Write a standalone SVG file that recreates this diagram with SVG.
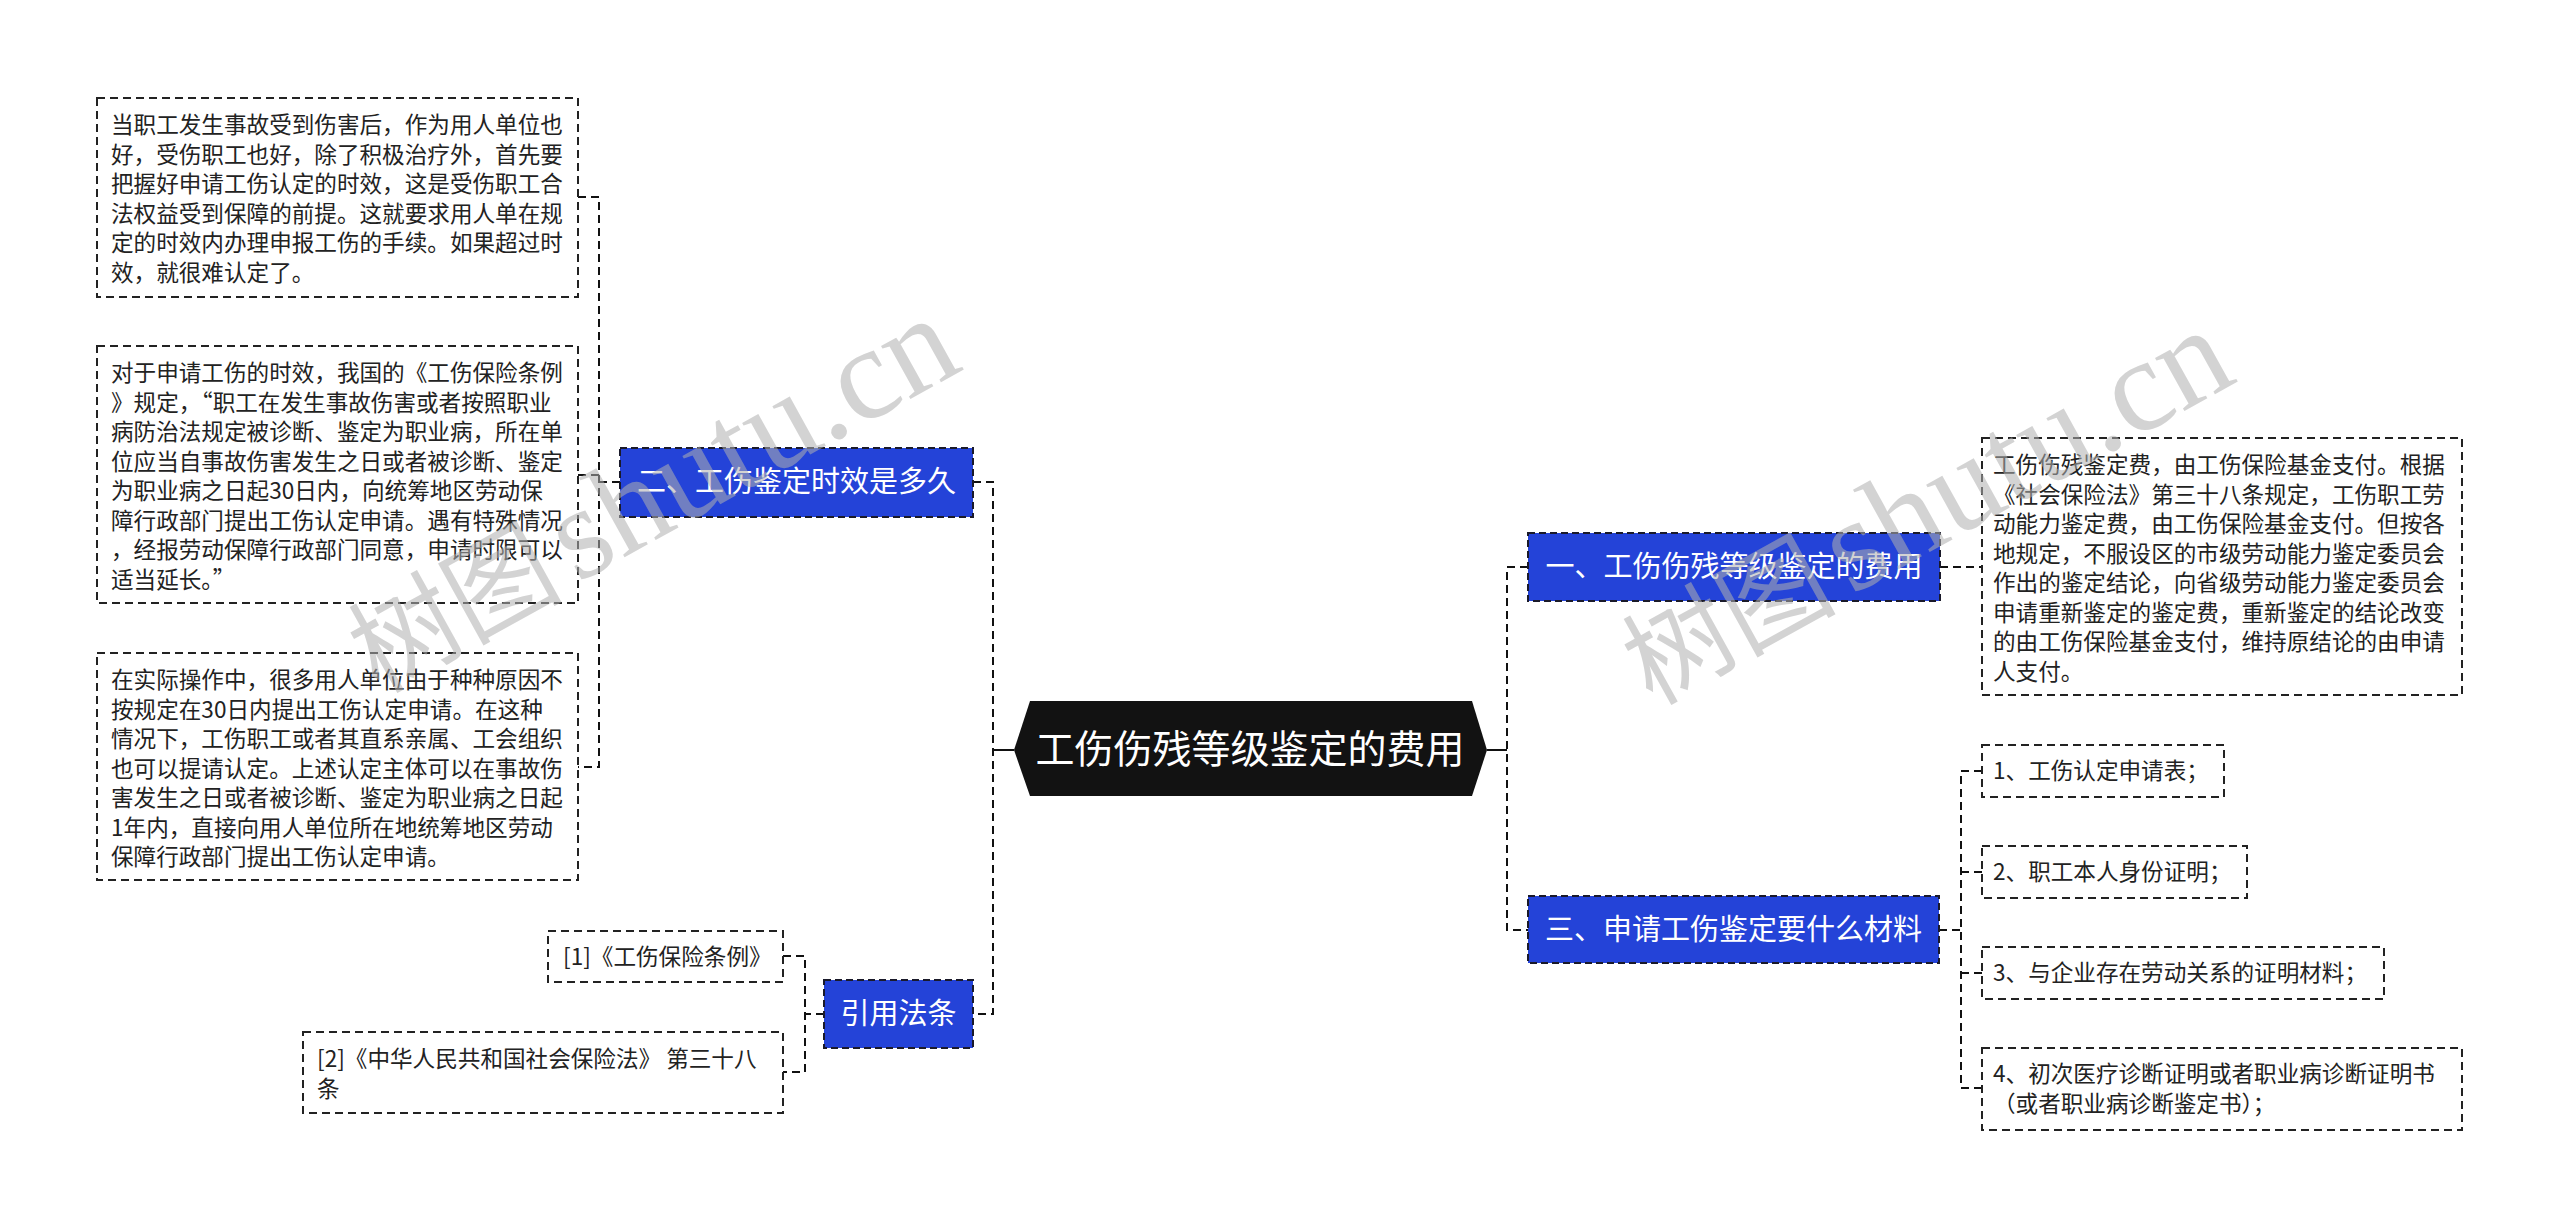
<svg xmlns="http://www.w3.org/2000/svg" width="2560" height="1228" viewBox="0 0 2560 1228">
<style>
.bg{fill:#ffffff}
.conn{fill:none;stroke:#111;stroke-width:2;stroke-dasharray:8 5}
.solid{fill:none;stroke:#111;stroke-width:2}
.leaf{fill:#ffffff;stroke:#222;stroke-width:2;stroke-dasharray:8 5}
.blue{fill:#2443d8;stroke:#1a1a2a;stroke-width:2;stroke-dasharray:7 4}
.root{fill:#121212}
.t{font-family:"Microsoft YaHei","Noto Sans CJK SC","Noto Sans",sans-serif;font-size:22.6px;fill:#222}
.bt{font-family:"Microsoft YaHei","Noto Sans CJK SC","Noto Sans",sans-serif;font-size:29px;fill:#ffffff;text-anchor:middle}
.rt{font-family:"Microsoft YaHei","Noto Sans CJK SC","Noto Sans",sans-serif;font-size:39px;fill:#ffffff;text-anchor:middle}
.wm{font-family:"Liberation Serif","Noto Sans CJK SC",serif;font-size:107px;fill:#b0b0b0;opacity:0.55}
.wml{font-size:132px}
</style>
<rect class="bg" x="0" y="0" width="2560" height="1228"/>

<g id="connectors">
  <path class="solid" d="M1014,750 H993"/>
  <path class="conn" d="M973,482 H993 V1014 H973"/>
  <path class="conn" d="M620,482 H599"/>
  <path class="conn" d="M578,197 H599 V767 H578"/>
  <path class="conn" d="M578,475 H599"/>
  <path class="conn" d="M824,1014 H805"/>
  <path class="conn" d="M783,956 H805 V1072 H783"/>
  <path class="solid" d="M1487,750 H1507"/>
  <path class="conn" d="M1528,567 H1507 V930 H1528"/>
  <path class="conn" d="M1940,567 H1982"/>
  <path class="conn" d="M1939,930 H1961"/>
  <path class="conn" d="M1982,771 H1961 V1088 H1982"/>
  <path class="conn" d="M1961,872 H1982"/>
  <path class="conn" d="M1961,973 H1982"/>
</g>

<g id="root">
  <polygon class="root" points="1014,750 1030,701 1472,701 1487,750 1472,796 1030,796"/>
  <text class="rt" x="1250" y="763">工伤伤残等级鉴定的费用</text>
</g>

<g id="n2">
  <rect class="blue" x="620" y="448" width="353" height="69"/>
  <text class="bt" x="796.5" y="492">二、工伤鉴定时效是多久</text>
</g>

<g id="n2a">
  <rect class="leaf" x="97" y="98" width="481" height="199"/>
  <text class="t">
    <tspan x="111" y="133">当职工发生事故受到伤害后，作为用人单位也</tspan>
    <tspan x="111" y="162.5">好，受伤职工也好，除了积极治疗外，首先要</tspan>
    <tspan x="111" y="192">把握好申请工伤认定的时效，这是受伤职工合</tspan>
    <tspan x="111" y="221.5">法权益受到保障的前提。这就要求用人单在规</tspan>
    <tspan x="111" y="251">定的时效内办理申报工伤的手续。如果超过时</tspan>
    <tspan x="111" y="280.5">效，就很难认定了。</tspan>
  </text>
</g>

<g id="n2b">
  <rect class="leaf" x="97" y="346" width="481" height="257"/>
  <text class="t">
    <tspan x="111" y="381">对于申请工伤的时效，我国的《工伤保险条例</tspan>
    <tspan x="111" y="410.5">》规定，“职工在发生事故伤害或者按照职业</tspan>
    <tspan x="111" y="440">病防治法规定被诊断、鉴定为职业病，所在单</tspan>
    <tspan x="111" y="469.5">位应当自事故伤害发生之日或者被诊断、鉴定</tspan>
    <tspan x="111" y="499">为职业病之日起30日内，向统筹地区劳动保</tspan>
    <tspan x="111" y="528.5">障行政部门提出工伤认定申请。遇有特殊情况</tspan>
    <tspan x="111" y="558">，经报劳动保障行政部门同意，申请时限可以</tspan>
    <tspan x="111" y="587.5">适当延长。”</tspan>
  </text>
</g>

<g id="n2c">
  <rect class="leaf" x="97" y="653" width="481" height="227"/>
  <text class="t">
    <tspan x="111" y="688">在实际操作中，很多用人单位由于种种原因不</tspan>
    <tspan x="111" y="717.5">按规定在30日内提出工伤认定申请。在这种</tspan>
    <tspan x="111" y="747">情况下，工伤职工或者其直系亲属、工会组织</tspan>
    <tspan x="111" y="776.5">也可以提请认定。上述认定主体可以在事故伤</tspan>
    <tspan x="111" y="806">害发生之日或者被诊断、鉴定为职业病之日起</tspan>
    <tspan x="111" y="835.5">1年内，直接向用人单位所在地统筹地区劳动</tspan>
    <tspan x="111" y="865">保障行政部门提出工伤认定申请。</tspan>
  </text>
</g>

<g id="n4">
  <rect class="blue" x="824" y="980" width="149" height="68"/>
  <text class="bt" x="898.5" y="1024">引用法条</text>
</g>

<g id="n4a">
  <rect class="leaf" x="548" y="931" width="235" height="51"/>
  <text class="t" x="563" y="965">[1]《工伤保险条例》</text>
</g>

<g id="n4b">
  <rect class="leaf" x="303" y="1032" width="480" height="81"/>
  <text class="t">
    <tspan x="317" y="1067">[2]《中华人民共和国社会保险法》 第三十八</tspan>
    <tspan x="317" y="1096.5">条</tspan>
  </text>
</g>

<g id="n1">
  <rect class="blue" x="1528" y="533" width="412" height="68"/>
  <text class="bt" x="1734" y="577">一、工伤伤残等级鉴定的费用</text>
</g>

<g id="n1a">
  <rect class="leaf" x="1982" y="438" width="480" height="257"/>
  <text class="t">
    <tspan x="1993" y="473">工伤伤残鉴定费，由工伤保险基金支付。根据</tspan>
    <tspan x="1993" y="502.5">《社会保险法》第三十八条规定，工伤职工劳</tspan>
    <tspan x="1993" y="532">动能力鉴定费，由工伤保险基金支付。但按各</tspan>
    <tspan x="1993" y="561.5">地规定，不服设区的市级劳动能力鉴定委员会</tspan>
    <tspan x="1993" y="591">作出的鉴定结论，向省级劳动能力鉴定委员会</tspan>
    <tspan x="1993" y="620.5">申请重新鉴定的鉴定费，重新鉴定的结论改变</tspan>
    <tspan x="1993" y="650">的由工伤保险基金支付，维持原结论的由申请</tspan>
    <tspan x="1993" y="679.5">人支付。</tspan>
  </text>
</g>

<g id="n3">
  <rect class="blue" x="1528" y="896" width="411" height="67"/>
  <text class="bt" x="1733.5" y="940">三、申请工伤鉴定要什么材料</text>
</g>

<g id="n3a">
  <rect class="leaf" x="1982" y="745" width="242" height="52"/>
  <text class="t" x="1993" y="779">1、工伤认定申请表；</text>
</g>
<g id="n3b">
  <rect class="leaf" x="1982" y="846" width="265" height="52"/>
  <text class="t" x="1993" y="880">2、职工本人身份证明；</text>
</g>
<g id="n3c">
  <rect class="leaf" x="1982" y="947" width="402" height="52"/>
  <text class="t" x="1993" y="981">3、与企业存在劳动关系的证明材料；</text>
</g>
<g id="n3d">
  <rect class="leaf" x="1982" y="1048" width="480" height="82"/>
  <text class="t">
    <tspan x="1993" y="1082">4、初次医疗诊断证明或者职业病诊断证明书</tspan>
    <tspan x="1993" y="1111.5">（或者职业病诊断鉴定书）；</tspan>
  </text>
</g>

<g id="watermark">
  <text class="wm" transform="translate(378,694) rotate(-29)">树图<tspan class="wml" dx="14">shutu.cn</tspan></text>
  <text class="wm" transform="translate(1652,706) rotate(-29)">树图<tspan class="wml" dx="14">shutu.cn</tspan></text>
</g>
</svg>
